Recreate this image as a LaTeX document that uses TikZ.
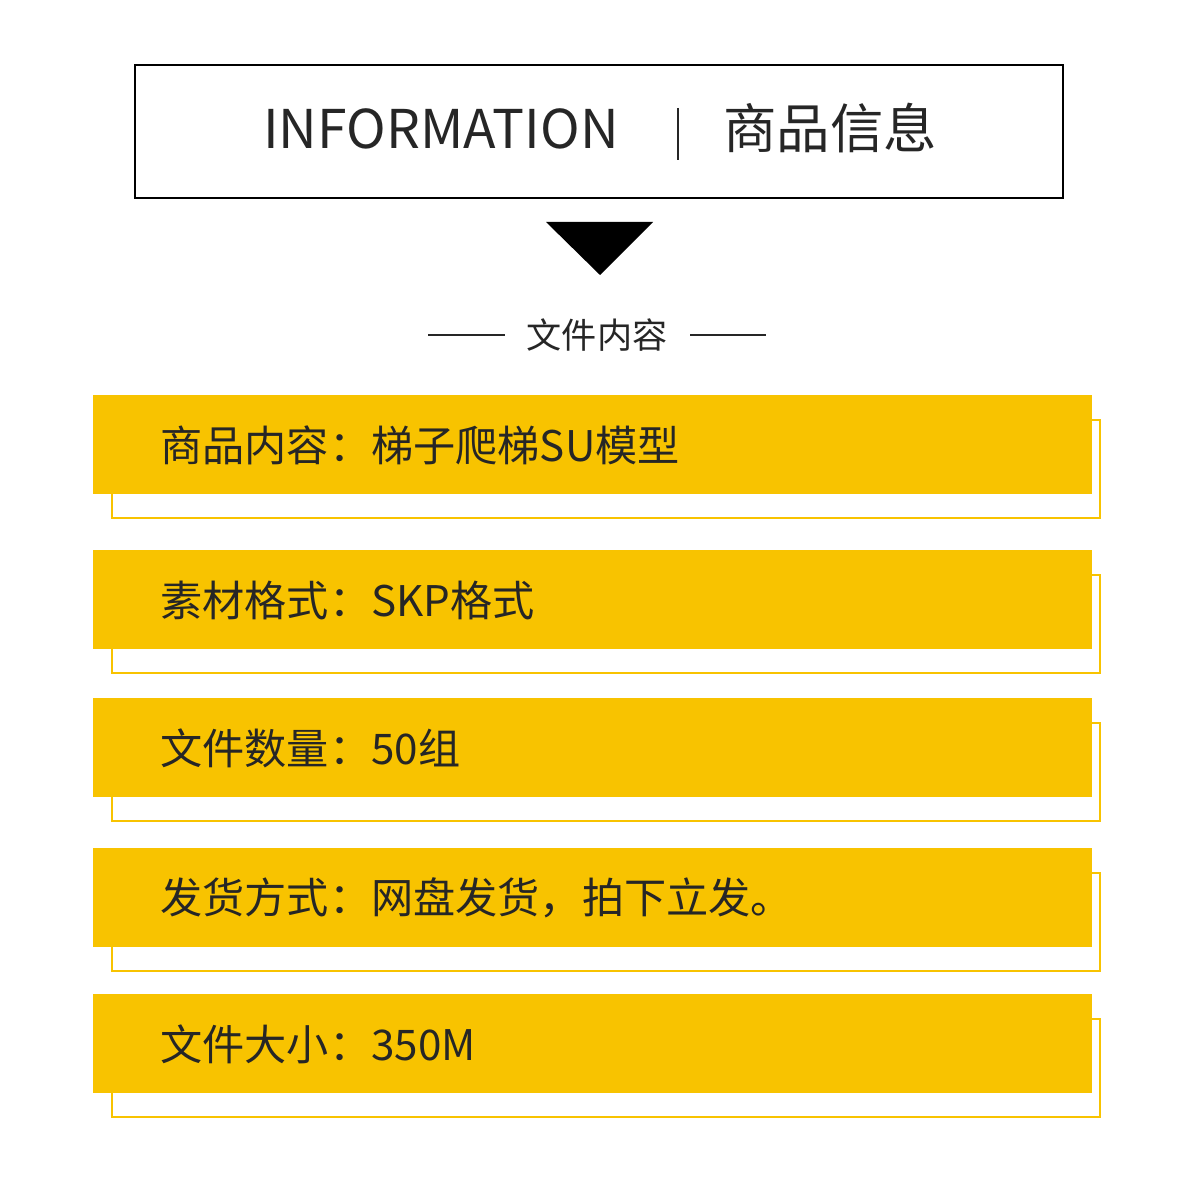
\documentclass[tikz,border=0pt]{standalone}
\usepackage{fontspec}
\setmainfont{Noto Sans CJK SC}
\definecolor{baryellow}{HTML}{F8C300}
\tikzset{
  bartext/.style={anchor=west, inner sep=0pt, text=black!85, font=\fontsize{30}{36}\selectfont},
  headtext/.style={anchor=base, inner sep=0pt, text=black!85, font=\fontsize{38}{44}\selectfont}
}
\begin{document}
\begin{tikzpicture}[x=0.025cm,y=-0.025cm]
    \useasboundingbox (0,0) rectangle (1200,1200);
    % header
    \draw[line width=1.5pt] (135,65) rectangle (1063,198);
    \node[headtext] (info) at (441,149) {INFORMATION};
    \node[headtext] (goods) at (830,149) {商品信息};
    \draw[line width=2pt, black!85] (678,108) -- (678,160);
    \fill (546,222) -- (653,222) -- (600,275) -- cycle;

    \node[inner sep=0pt, text=black!85, font=\fontsize{25}{30}\selectfont] (sub) at (597,335) {文件内容};
    \draw[line width=1.4pt, black!85] (428,335) -- (505,335);
    \draw[line width=1.4pt, black!85] (690,335) -- (766,335);

    \foreach \k/\y/\t in {1/395/商品内容：梯子爬梯SU模型,2/550/素材格式：SKP格式,3/698/文件数量：50组,4/848/发货方式：网盘发货，拍下立发。,5/994/文件大小：350M} {
        \draw[baryellow, line width=1.8pt] (112,\y+25) rectangle (1100,\y+123);
        \fill[baryellow] (93,\y) rectangle (1092,\y+99);
        \node[bartext] (bar\k) at (160,\y+50) {\t};
    }
\end{tikzpicture}
\end{document}
